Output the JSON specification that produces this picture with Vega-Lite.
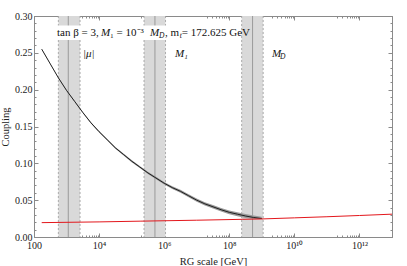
{
  "$schema": "https://vega.github.io/schema/vega-lite/v6.json",
  "width": 358,
  "height": 221,
  "autosize": {"type": "none"},
  "padding": {"left": 34, "top": 16, "right": 15, "bottom": 29},
  "background": "white",
  "config": {
    "font": "Liberation Serif",
    "view": {"stroke": "#8a8a8a", "strokeWidth": 1},
    "axis": {
      "domainColor": "#8a8a8a",
      "tickColor": "#8a8a8a",
      "labelColor": "#222",
      "titleColor": "#222",
      "labelFont": "Liberation Serif",
      "titleFont": "Liberation Serif",
      "labelFontSize": 10,
      "titleFontSize": 10.5,
      "titleFontWeight": "normal",
      "grid": false,
      "labelFlush": false,
      "labelOverlap": false
    }
  },
  "datasets": {
    "bands": [
      {"name": "mu", "lo": 560, "c": 1130, "hi": 2600},
      {"name": "M1", "lo": 240000, "c": 520000, "hi": 1100000},
      {"name": "MD", "lo": 240000000, "c": 520000000, "hi": 1100000000}
    ],
    "box": [{"x": 320, "x2": 220000000, "y": 0.2675, "y2": 0.2872}],
    "curve": [
      {"x": 172.625, "v": 0.255, "lo": 0.2545, "hi": 0.2555},
      {"x": 316.2, "v": 0.235, "lo": 0.2344, "hi": 0.2356},
      {"x": 562.3, "v": 0.216, "lo": 0.2154, "hi": 0.2166},
      {"x": 1000, "v": 0.199, "lo": 0.1983, "hi": 0.1997},
      {"x": 1778, "v": 0.184, "lo": 0.1833, "hi": 0.1847},
      {"x": 3162, "v": 0.169, "lo": 0.1682, "hi": 0.1698},
      {"x": 5623, "v": 0.155, "lo": 0.1541, "hi": 0.1559},
      {"x": 10000, "v": 0.143, "lo": 0.1420, "hi": 0.1440},
      {"x": 17783, "v": 0.132, "lo": 0.1309, "hi": 0.1331},
      {"x": 31623, "v": 0.121, "lo": 0.1198, "hi": 0.1222},
      {"x": 56234, "v": 0.112, "lo": 0.1107, "hi": 0.1133},
      {"x": 100000, "v": 0.103, "lo": 0.1016, "hi": 0.1044},
      {"x": 177828, "v": 0.095, "lo": 0.0935, "hi": 0.0965},
      {"x": 316228, "v": 0.087, "lo": 0.0854, "hi": 0.0886},
      {"x": 562341, "v": 0.080, "lo": 0.0783, "hi": 0.0817},
      {"x": 1000000, "v": 0.073, "lo": 0.0712, "hi": 0.0748},
      {"x": 1778279, "v": 0.067, "lo": 0.0651, "hi": 0.0689},
      {"x": 3162278, "v": 0.062, "lo": 0.0600, "hi": 0.0640},
      {"x": 5623413, "v": 0.056, "lo": 0.0539, "hi": 0.0581},
      {"x": 10000000, "v": 0.050, "lo": 0.0478, "hi": 0.0522},
      {"x": 17782794, "v": 0.045, "lo": 0.0427, "hi": 0.0473},
      {"x": 31622777, "v": 0.041, "lo": 0.0386, "hi": 0.0434},
      {"x": 56234133, "v": 0.037, "lo": 0.0345, "hi": 0.0395},
      {"x": 100000000, "v": 0.0335, "lo": 0.0309, "hi": 0.0361},
      {"x": 177827941, "v": 0.031, "lo": 0.0283, "hi": 0.0337},
      {"x": 316227766, "v": 0.0285, "lo": 0.0257, "hi": 0.0313},
      {"x": 562341325, "v": 0.0265, "lo": 0.0245, "hi": 0.0293},
      {"x": 1000000000, "v": 0.025, "lo": 0.0245, "hi": 0.0275}
    ],
    "red": [
      {"x": 172.625, "v": 0.0195},
      {"x": 10000, "v": 0.0205},
      {"x": 182000, "v": 0.0215},
      {"x": 10000000, "v": 0.0228},
      {"x": 251000000, "v": 0.024},
      {"x": 1000000000, "v": 0.0245},
      {"x": 10000000000, "v": 0.026},
      {"x": 100000000000, "v": 0.0275},
      {"x": 1000000000000, "v": 0.0292},
      {"x": 10000000000000, "v": 0.031}
    ],
    "textUpright": [
      {"x": 509, "y": 0.2772, "t": "tan β = 3,"},
      {"x": 21600, "y": 0.2772, "t": "₁ = 10⁻³"},
      {"x": 1060000, "y": 0.2772, "t": ", m  = 172.625 GeV"}
    ],
    "textItalic": [
      {"x": 11430, "y": 0.2772, "t": "M"},
      {"x": 366000, "y": 0.2772, "t": "M"},
      {"x": 3200, "y": 0.249, "t": "|μ|"},
      {"x": 2140000, "y": 0.249, "t": "M₁"},
      {"x": 2040000000, "y": 0.249, "t": "M"}
    ],
    "textSub": [
      {"x": 692000, "y": 0.2772, "t": "D"},
      {"x": 3000000, "y": 0.2772, "t": "t"},
      {"x": 3610000000, "y": 0.249, "t": "D"}
    ]
  },
  "resolve": {"axis": {"x": "independent", "y": "independent"}},
  "layer": [
    {
      "data": {"name": "bands"},
      "mark": {"type": "rect", "color": "#d9d9d9"},
      "encoding": {
        "x": {"field": "lo", "type": "quantitative", "scale": {"type": "log", "domain": [100, 10000000000000], "nice": false}, "axis": null},
        "x2": {"field": "hi"},
        "y": {"datum": 0, "type": "quantitative", "scale": {"domain": [0, 0.3], "nice": false}, "axis": null},
        "y2": {"datum": 0.3}
      }
    },
    {
      "data": {"name": "bands"},
      "mark": {"type": "rule", "color": "#9a9a9a", "strokeWidth": 0.8, "strokeDash": [2, 2]},
      "encoding": {"x": {"field": "lo", "type": "quantitative", "axis": null}}
    },
    {
      "data": {"name": "bands"},
      "mark": {"type": "rule", "color": "#9a9a9a", "strokeWidth": 0.8, "strokeDash": [2, 2]},
      "encoding": {"x": {"field": "hi", "type": "quantitative", "axis": null}}
    },
    {
      "data": {"name": "bands"},
      "mark": {"type": "rule", "color": "#9a9a9a", "strokeWidth": 1},
      "encoding": {"x": {"field": "c", "type": "quantitative", "axis": null}}
    },
    {
      "data": {"name": "box"},
      "mark": {"type": "rect", "color": "white"},
      "encoding": {
        "x": {"field": "x", "type": "quantitative", "axis": null},
        "x2": {"field": "x2"},
        "y": {"field": "y", "type": "quantitative", "axis": null},
        "y2": {"field": "y2"}
      }
    },
    {
      "data": {"name": "curve"},
      "mark": {"type": "area", "color": "#9a9a9a", "opacity": 1},
      "encoding": {
        "x": {"field": "x", "type": "quantitative", "axis": null},
        "y": {"field": "lo", "type": "quantitative", "axis": null},
        "y2": {"field": "hi"}
      }
    },
    {
      "data": {"name": "curve"},
      "mark": {"type": "line", "color": "#111", "strokeWidth": 0.9},
      "encoding": {
        "x": {"field": "x", "type": "quantitative",
          "axis": {
            "orient": "top", "labels": false, "title": null,
            "values": [100, 2000, 3000, 4000, 5000, 6000, 7000, 8000, 9000, 10000, 200000, 300000, 400000, 500000, 600000, 700000, 800000, 900000, 1000000, 20000000, 30000000, 40000000, 50000000, 60000000, 70000000, 80000000, 90000000, 100000000, 2000000000, 3000000000, 4000000000, 5000000000, 6000000000, 7000000000, 8000000000, 9000000000, 10000000000, 200000000000, 300000000000, 400000000000, 500000000000, 600000000000, 700000000000, 800000000000, 900000000000, 1000000000000],
            "tickSize": {"condition": {"test": "datum.value==100||datum.value==1e4||datum.value==1e6||datum.value==1e8||datum.value==1e10||datum.value==1e12", "value": -4}, "value": -2}
          }},
        "y": {"field": "v", "type": "quantitative",
          "axis": {
            "orient": "right", "labels": false, "title": null,
            "values": [0, 0.01, 0.02, 0.03, 0.04, 0.05, 0.06, 0.07, 0.08, 0.09, 0.1, 0.11, 0.12, 0.13, 0.14, 0.15, 0.16, 0.17, 0.18, 0.19, 0.2, 0.21, 0.22, 0.23, 0.24, 0.25, 0.26, 0.27, 0.28, 0.29, 0.3],
            "tickSize": {"condition": {"test": "abs(datum.value*20-round(datum.value*20))<0.001", "value": -4}, "value": -2}
          }}
      }
    },
    {
      "data": {"name": "red"},
      "mark": {"type": "line", "color": "#e3171c", "strokeWidth": 1},
      "encoding": {
        "x": {"field": "x", "type": "quantitative",
          "axis": {
            "orient": "bottom", "title": "RG scale [GeV]",
            "values": [100, 2000, 3000, 4000, 5000, 6000, 7000, 8000, 9000, 10000, 200000, 300000, 400000, 500000, 600000, 700000, 800000, 900000, 1000000, 20000000, 30000000, 40000000, 50000000, 60000000, 70000000, 80000000, 90000000, 100000000, 2000000000, 3000000000, 4000000000, 5000000000, 6000000000, 7000000000, 8000000000, 9000000000, 10000000000, 200000000000, 300000000000, 400000000000, 500000000000, 600000000000, 700000000000, 800000000000, 900000000000, 1000000000000],
            "labelExpr": "datum.value==100?'100':datum.value==1e4?'10⁴':datum.value==1e6?'10⁶':datum.value==1e8?'10⁸':datum.value==1e10?'10¹⁰':datum.value==1e12?'10¹²':''",
            "tickSize": {"condition": {"test": "datum.value==100||datum.value==1e4||datum.value==1e6||datum.value==1e8||datum.value==1e10||datum.value==1e12", "value": -4}, "value": -2},
            "labelPadding": 7,
            "titlePadding": 4
          }},
        "y": {"field": "v", "type": "quantitative",
          "axis": {
            "orient": "left", "title": "Coupling",
            "values": [0, 0.01, 0.02, 0.03, 0.04, 0.05, 0.06, 0.07, 0.08, 0.09, 0.1, 0.11, 0.12, 0.13, 0.14, 0.15, 0.16, 0.17, 0.18, 0.19, 0.2, 0.21, 0.22, 0.23, 0.24, 0.25, 0.26, 0.27, 0.28, 0.29, 0.3],
            "labelExpr": "abs(datum.value*20-round(datum.value*20))<0.001 ? format(datum.value, '.2f') : ''",
            "tickSize": {"condition": {"test": "abs(datum.value*20-round(datum.value*20))<0.001", "value": -4}, "value": -2},
            "labelPadding": 6,
            "titlePadding": 4
          }}
      }
    },
    {
      "data": {"name": "textUpright"},
      "mark": {"type": "text", "align": "left", "baseline": "middle", "fontSize": 11, "color": "#111"},
      "encoding": {
        "x": {"field": "x", "type": "quantitative", "axis": null},
        "y": {"field": "y", "type": "quantitative", "axis": null},
        "text": {"field": "t"}
      }
    },
    {
      "data": {"name": "textItalic"},
      "mark": {"type": "text", "align": "left", "baseline": "middle", "fontSize": 11, "fontStyle": "italic", "color": "#111"},
      "encoding": {
        "x": {"field": "x", "type": "quantitative", "axis": null},
        "y": {"field": "y", "type": "quantitative", "axis": null},
        "text": {"field": "t"}
      }
    },
    {
      "data": {"name": "textSub"},
      "mark": {"type": "text", "align": "left", "baseline": "middle", "fontSize": 7.5, "fontStyle": "italic", "dy": 3, "color": "#111"},
      "encoding": {
        "x": {"field": "x", "type": "quantitative", "axis": null},
        "y": {"field": "y", "type": "quantitative", "axis": null},
        "text": {"field": "t"}
      }
    }
  ]
}
